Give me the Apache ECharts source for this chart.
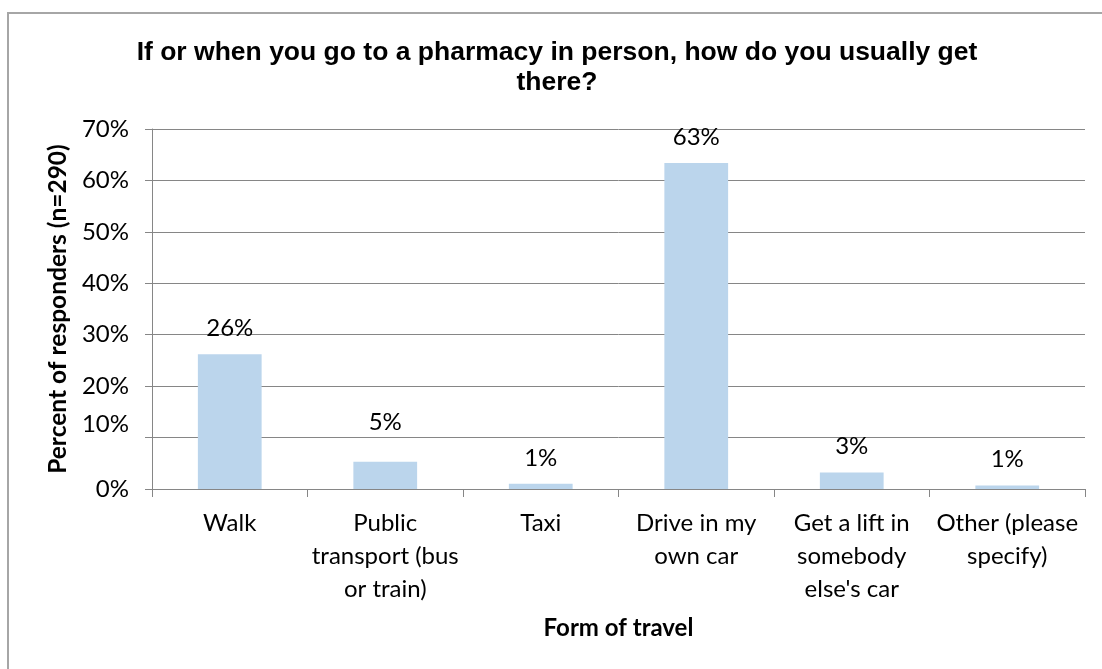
<!DOCTYPE html>
<html>
<head>
<meta charset="utf-8">
<title>Pharmacy travel survey</title>
<script src="https://cdn.jsdelivr.net/npm/echarts@6/dist/echarts.min.js"></script>
<style>
  html, body { margin: 0; padding: 0; background: #ffffff; }
  #chart { width: 1102px; height: 669px; }
</style>
</head>
<body>
<div id="chart"></div>
<script>
// Survey answers: how people get to a pharmacy
const categories = [
  'Walk',
  'Public\ntransport (bus\nor train)',
  'Taxi',
  'Drive in my\nown car',
  'Get a lift in\nsomebody\nelse\'s car',
  'Other (please\nspecify)'
];
// Percent of responders (n=290)
const percentages = [26.2, 5.3, 1.0, 63.4, 3.2, 0.7];
// Value-axis ticks (percent)
const yTicks = [0, 10, 20, 30, 40, 50, 60, 70];

const bodyFont = 'Lato, "Open Sans", sans-serif';
const gridColor = '#868686';

// Per-bar label distance (Public transport label sits a little higher)
const labelDistances = [14, 27, 14, 14, 14, 14];

const chart = echarts.init(document.getElementById('chart'), null, { renderer: 'canvas' });

const option = {
  backgroundColor: '#ffffff',
  animation: false,
  title: {
    text: 'If or when you go to a pharmacy in person, how do you usually get\nthere?',
    left: 552,
    top: 33,
    textAlign: 'center',
    textStyle: {
      fontFamily: '"Liberation Sans", Arial, sans-serif',
      fontWeight: 'bold',
      fontSize: 26.5,
      lineHeight: 30,
      color: '#000000'
    }
  },
  graphic: [{
    type: 'rect',
    silent: true,
    shape: { x: 8, y: 13, width: 1200, height: 800 },
    style: { fill: 'none', stroke: '#a6a6a6', lineWidth: 2 }
  }],
  grid: {
    left: 152,
    right: 17,
    top: 129,
    bottom: 180,
    containLabel: false
  },
  xAxis: {
    type: 'category',
    data: categories,
    name: 'Form of travel',
    nameLocation: 'middle',
    nameGap: 127,
    nameTextStyle: {
      fontFamily: bodyFont,
      fontWeight: 'bold',
      fontSize: 24,
      color: '#000000'
    },
    axisLine: { show: true, lineStyle: { color: gridColor, width: 1 } },
    axisTick: { show: true, length: 8, alignWithLabel: false, lineStyle: { color: gridColor } },
    axisLabel: {
      interval: 0,
      margin: 18,
      fontFamily: bodyFont,
      fontSize: 24,
      lineHeight: 33,
      color: '#000000',
      align: 'center'
    },
    splitLine: { show: false }
  },
  yAxis: {
    type: 'value',
    min: yTicks[0],
    max: yTicks[yTicks.length - 1],
    interval: yTicks[1] - yTicks[0],
    name: 'Percent of responders (n=290)',
    nameLocation: 'middle',
    nameGap: 78,
    nameRotate: 90,
    nameTextStyle: {
      fontFamily: bodyFont,
      fontWeight: 'bold',
      fontSize: 24.5,
      color: '#000000'
    },
    axisLine: { show: true, lineStyle: { color: gridColor, width: 1 } },
    axisTick: { show: true, length: 7, lineStyle: { color: gridColor } },
    axisLabel: {
      margin: 23,
      fontFamily: bodyFont,
      fontSize: 24,
      color: '#000000',
      formatter: function (v) {
        return v === 10 ? '{up|' + v + '%}' : v + '%';
      },
      rich: {
        up: {
          fontFamily: bodyFont,
          fontSize: 24,
          color: '#000000',
          padding: [0, 0, 26, 0]
        }
      }
    },
    splitLine: { show: true, lineStyle: { color: gridColor, width: 1 } }
  },
  series: [{
    type: 'bar',
    data: percentages.map(function (v, i) {
      return { value: v, label: { distance: labelDistances[i] } };
    }),
    barCategoryGap: '59%',
    itemStyle: { color: '#bbd5ec' },
    label: {
      show: true,
      position: 'top',
      fontFamily: bodyFont,
      fontSize: 24,
      color: '#000000',
      formatter: function (p) { return Math.round(p.value) + '%'; }
    }
  }]
};

chart.setOption(option);
</script>
</body>
</html>
